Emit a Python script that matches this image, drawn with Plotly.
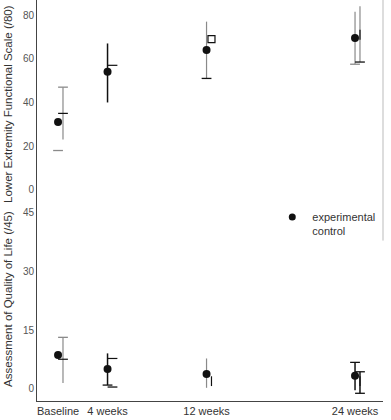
import plotly.graph_objects as go
from plotly.subplots import make_subplots

weeks = [0, 4, 12, 24]
tick_labels = ["Baseline", "4 weeks", "12 weeks", "24 weeks"]

# Lower Extremity Functional Scale (/80)
lefs_exp_mean = [31, 54, 64, 69.5]
lefs_exp_low = [18, 40, 51, 57.5]
lefs_exp_high = [31, 67, 77, 81.5]
lefs_ctl_mean = [35, 57, 69, 71]
lefs_ctl_low = [23, 57, 69, 58.5]
lefs_ctl_high = [47, 57, 69, 84]

# Assessment of Quality of Life (/45)
qol_exp_mean = [8.7, 5.1, 3.8, 3.4]
qol_exp_low = [8.7, 1.0, 0.3, -0.3]
qol_exp_high = [8.7, 9.1, 7.8, 6.8]
qol_ctl_mean = [7.6, 7.8, 2.0, 2.0]
qol_ctl_low = [1.5, 0.5, 2.0, -1.1]
qol_ctl_high = [13.2, 7.8, 2.0, 4.4]

# ---- styles ----
FONT = "Liberation Sans, Arial, sans-serif"
TXT = "#333333"
GRAY = "#8a8a8a"
DARK = "#111111"
N = None
CTL_OFFSET = 0.4

panels = [
    dict(row=1,
         exp=(lefs_exp_mean, lefs_exp_low, lefs_exp_high),
         ctl=(lefs_ctl_mean, lefs_ctl_low, lefs_ctl_high),
         exp_bar=[N, DARK, GRAY, GRAY], exp_lowcap=[GRAY, N, DARK, GRAY], exp_highcap=[N, N, N, N],
         ctl_bar=[GRAY, N, N, GRAY], ctl_lowcap=[N, N, N, DARK], ctl_highcap=[GRAY, N, N, N],
         ctl_sym=["line-ew", "line-ew", "square-open", "line-ns"]),
    dict(row=2,
         exp=(qol_exp_mean, qol_exp_low, qol_exp_high),
         ctl=(qol_ctl_mean, qol_ctl_low, qol_ctl_high),
         exp_bar=[N, DARK, GRAY, DARK], exp_lowcap=[N, DARK, N, N], exp_highcap=[N, N, N, DARK],
         ctl_bar=[GRAY, N, N, DARK], ctl_lowcap=[N, DARK, N, DARK], ctl_highcap=[GRAY, N, N, DARK],
         ctl_sym=["line-ew", "line-ew", "line-ns", "line-ns"]),
]

fig = make_subplots(rows=2, cols=1, shared_xaxes=True, vertical_spacing=0,
                    row_heights=[0.511, 0.489])


def cap_trace(xs, ys, color, r):
    fig.add_trace(go.Scatter(
        x=xs, y=ys, mode="markers", showlegend=False, hoverinfo="skip",
        marker=dict(symbol="line-ew", size=7, color=color,
                    line=dict(width=1.3, color=color))), row=r, col=1)


for p in panels:
    r = p["row"]
    for key, off in (("exp", 0), ("ctl", CTL_OFFSET)):
        mean, low, high = p[key]
        bars, lowcaps, highcaps = p[key + "_bar"], p[key + "_lowcap"], p[key + "_highcap"]
        for i, w in enumerate(weeks):
            up = high[i] - mean[i]
            dn = mean[i] - low[i]
            if bars[i] and (up > 0 or dn > 0):
                fig.add_trace(go.Scatter(
                    x=[w + off], y=[mean[i]], mode="markers",
                    marker=dict(size=1, color="rgba(0,0,0,0)"),
                    error_y=dict(type="data", symmetric=False, array=[up], arrayminus=[dn],
                                 color=bars[i], thickness=1.5 if bars[i] == DARK else 1.2,
                                 width=0),
                    showlegend=False, hoverinfo="skip"), row=r, col=1)
            if lowcaps[i]:
                cap_trace([w + off], [low[i]], lowcaps[i], r)
            if highcaps[i]:
                cap_trace([w + off], [high[i]], highcaps[i], r)
    # experimental markers
    fig.add_trace(go.Scatter(
        x=weeks, y=p["exp"][0], mode="markers",
        marker=dict(symbol="circle", size=8, color=DARK),
        showlegend=False, name="experimental"), row=r, col=1)
    # control markers
    fig.add_trace(go.Scatter(
        x=[w + CTL_OFFSET for w in weeks], y=p["ctl"][0], mode="markers",
        marker=dict(symbol=p["ctl_sym"], size=7, color=DARK,
                    line=dict(width=1.2, color=DARK)),
        showlegend=False, name="control"), row=r, col=1)

# legend entries
fig.add_trace(go.Scatter(x=[None], y=[None], mode="markers", name="experimental",
                         legend="legend",
                         marker=dict(symbol="circle", size=7, color=DARK)), row=2, col=1)
fig.add_trace(go.Scatter(x=[None], y=[None], mode="markers", name="control",
                         legend="legend2",
                         marker=dict(symbol="circle", size=7, color="rgba(0,0,0,0)")),
              row=2, col=1)

axis_common = dict(showgrid=False, zeroline=False, showline=True, linecolor="#444444",
                   linewidth=1, tickfont=dict(family=FONT, size=10, color="#555555"),
                   ticks="")
fig.update_xaxes(range=[-1.7, 26.26], tickvals=weeks, ticktext=tick_labels,
                 showgrid=False, zeroline=False, ticks="")
fig.update_xaxes(showline=False, showticklabels=False, row=1, col=1)
fig.update_xaxes(showline=True, linecolor="#444444", linewidth=1,
                 tickfont=dict(family=FONT, size=11, color=TXT), row=2, col=1)
fig.update_yaxes(range=[-6.9, 86.9], tickvals=[0, 20, 40, 60, 80], row=1, col=1, **axis_common)
fig.update_yaxes(range=[-3.07, 47.05], tickvals=[0, 15, 30, 45], row=2, col=1, **axis_common)

fig.add_annotation(text="Lower Extremity Functional Scale (/80)", textangle=-90,
                   xref="paper", yref="paper", x=-0.084, y=(401 - 104) / 401,
                   xanchor="center", yanchor="middle", showarrow=False,
                   font=dict(family=FONT, size=11.5, color=TXT))
fig.add_annotation(text="Assessment of Quality of Life (/45)", textangle=-90,
                   xref="paper", yref="paper", x=-0.084, y=(401 - 299) / 401,
                   xanchor="center", yanchor="middle", showarrow=False,
                   font=dict(family=FONT, size=11.5, color=TXT))

fig.add_shape(type="line", xref="paper", yref="paper", x0=1, x1=1, y0=0.40, y1=1,
              line=dict(color="#bbbbbb", width=1))

legend_common = dict(xanchor="left", yanchor="middle", bgcolor="rgba(0,0,0,0)",
                     font=dict(family=FONT, size=11, color=TXT), itemwidth=30,
                     tracegroupgap=0)
fig.update_layout(
    width=391, height=420,
    margin=dict(l=37, r=8, t=0, b=19),
    plot_bgcolor="white", paper_bgcolor="white",
    font=dict(family=FONT, size=11, color=TXT),
    legend=dict(x=0.68, y=(401 - 217) / 401, **legend_common),
    legend2=dict(x=0.68, y=(401 - 231) / 401, **legend_common),
)

fig.write_html("out.html", config={"displayModeBar": False},
               post_script="document.body.style.margin='0';")
